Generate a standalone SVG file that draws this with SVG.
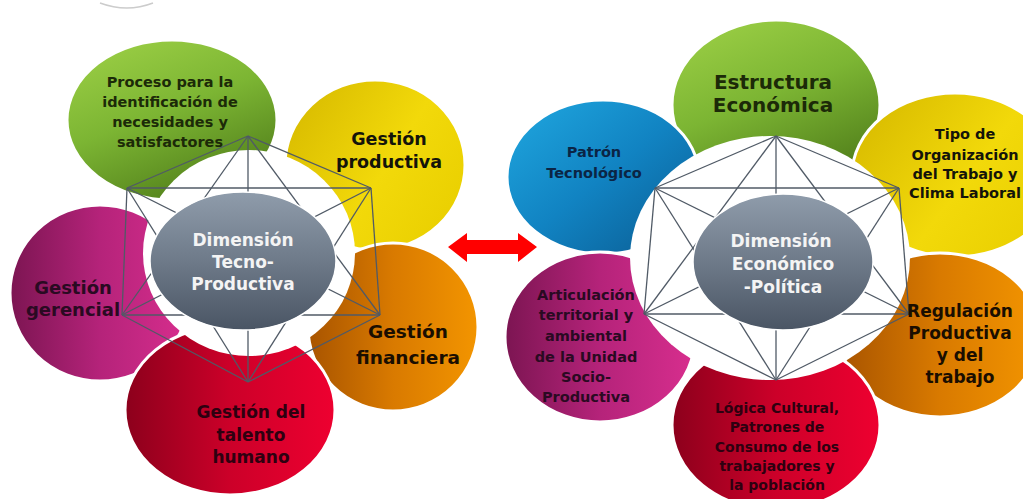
<svg xmlns="http://www.w3.org/2000/svg" width="1023" height="499" viewBox="0 0 1023 499">
<defs>
<linearGradient id="gGreen" x1="0.1" y1="0" x2="0.6" y2="1"><stop offset="0" stop-color="#9dd046"/><stop offset="0.5" stop-color="#7cb533"/><stop offset="1" stop-color="#52801b"/></linearGradient>
<linearGradient id="gYellow" x1="0" y1="0.2" x2="1" y2="0.8"><stop offset="0" stop-color="#d8bb00"/><stop offset="0.55" stop-color="#f2d90a"/><stop offset="1" stop-color="#e9cf00"/></linearGradient>
<linearGradient id="gOrange" x1="0" y1="0.5" x2="1" y2="0.5"><stop offset="0" stop-color="#a85400"/><stop offset="0.5" stop-color="#d97a00"/><stop offset="1" stop-color="#f39500"/></linearGradient>
<linearGradient id="gRed" x1="0" y1="0.5" x2="1" y2="0.5"><stop offset="0" stop-color="#8c001c"/><stop offset="0.5" stop-color="#cc0029"/><stop offset="1" stop-color="#ee0030"/></linearGradient>
<linearGradient id="gPink" x1="0" y1="0.5" x2="1" y2="0.5"><stop offset="0" stop-color="#7c1552"/><stop offset="0.5" stop-color="#b5237a"/><stop offset="1" stop-color="#d82e8e"/></linearGradient>
<linearGradient id="gBlue" x1="0" y1="0" x2="1" y2="1"><stop offset="0" stop-color="#20a8e0"/><stop offset="0.5" stop-color="#1183c2"/><stop offset="1" stop-color="#0a5a90"/></linearGradient>
<linearGradient id="gGray" x1="0" y1="0" x2="0" y2="1"><stop offset="0" stop-color="#8f9cab"/><stop offset="0.5" stop-color="#6e7a89"/><stop offset="1" stop-color="#4a5564"/></linearGradient>
</defs>
<style>
.petal{stroke:#ffffff;stroke-width:3}
.hole{fill:#ffffff;stroke:none}
.hub{fill:url(#gGray);stroke:#ffffff;stroke-width:1.5}
.edge{stroke:#505a66;stroke-width:1.3;fill:none}
text{font-family:"DejaVu Sans","Liberation Sans",sans-serif;font-weight:bold;text-anchor:middle}
.hubt{fill:#f4f4f4;font-size:17px}
.tg{fill:#1c2a08}
.ty{fill:#14140a}
.to{fill:#1a0e00}
.tr{fill:#2e0010}
.tp{fill:#2a0a22}
.tb{fill:#0b2545}
</style>
<rect width="1023" height="499" fill="#ffffff"/>
<path d="M100,3 Q127,13 153,3" fill="none" stroke="#cccccc" stroke-width="1.5"/>

<!-- Left cluster petals -->
<g id="left-petals">
<ellipse id="l-yellow-shape" class="petal" cx="375" cy="165" rx="90" ry="85" fill="url(#gYellow)"/>
<ellipse id="l-orange-shape" class="petal" cx="393" cy="327" rx="85" ry="84" fill="url(#gOrange)"/>
<ellipse id="l-pink-shape" class="petal" cx="100" cy="293" rx="90" ry="88" fill="url(#gPink)"/>
<ellipse id="l-red-shape" class="petal" cx="230" cy="410" rx="105" ry="85" fill="url(#gRed)"/>
<ellipse id="l-green-shape" class="petal" cx="172" cy="120" rx="105" ry="80" fill="url(#gGreen)"/>
</g>
<ellipse class="hole" cx="249" cy="253" rx="106" ry="103"/>

<!-- Right cluster petals -->
<g id="right-petals">
<ellipse id="r-green-shape" class="petal" cx="776" cy="105" rx="104" ry="85" fill="url(#gGreen)"/>
<ellipse id="r-blue-shape" class="petal" cx="603" cy="177" rx="96" ry="77" fill="url(#gBlue)"/>
<ellipse id="r-yellow-shape" class="petal" cx="955" cy="175" rx="103" ry="82" fill="url(#gYellow)"/>
<ellipse id="r-pink-shape" class="petal" cx="600" cy="337" rx="95" ry="85" fill="url(#gPink)"/>
<ellipse id="r-orange-shape" class="petal" cx="940" cy="335" rx="100" ry="82" fill="url(#gOrange)"/>
<ellipse id="r-red-shape" class="petal" cx="776" cy="425" rx="104" ry="85" fill="url(#gRed)"/>
</g>
<ellipse class="hole" cx="770" cy="258" rx="140" ry="122"/>

<!-- Connectors -->
<g id="connectors">
<g id="left-web">
<line class="edge" x1="248" y1="136" x2="127" y2="188"/>
<line class="edge" x1="248" y1="136" x2="371" y2="188"/>
<line class="edge" x1="248" y1="136" x2="122" y2="315"/>
<line class="edge" x1="248" y1="136" x2="380" y2="315"/>
<line class="edge" x1="248" y1="136" x2="248" y2="382"/>
<line class="edge" x1="127" y1="188" x2="371" y2="188"/>
<line class="edge" x1="127" y1="188" x2="122" y2="315"/>
<line class="edge" x1="127" y1="188" x2="380" y2="315"/>
<line class="edge" x1="127" y1="188" x2="248" y2="382"/>
<line class="edge" x1="371" y1="188" x2="122" y2="315"/>
<line class="edge" x1="371" y1="188" x2="380" y2="315"/>
<line class="edge" x1="371" y1="188" x2="248" y2="382"/>
<line class="edge" x1="122" y1="315" x2="380" y2="315"/>
<line class="edge" x1="122" y1="315" x2="248" y2="382"/>
<line class="edge" x1="380" y1="315" x2="248" y2="382"/>
</g>
<g id="right-web">
<line class="edge" x1="776" y1="136" x2="655" y2="188"/>
<line class="edge" x1="776" y1="136" x2="899" y2="188"/>
<line class="edge" x1="776" y1="136" x2="644" y2="314"/>
<line class="edge" x1="776" y1="136" x2="909" y2="314"/>
<line class="edge" x1="776" y1="136" x2="776" y2="380"/>
<line class="edge" x1="655" y1="188" x2="899" y2="188"/>
<line class="edge" x1="655" y1="188" x2="644" y2="314"/>
<line class="edge" x1="655" y1="188" x2="909" y2="314"/>
<line class="edge" x1="655" y1="188" x2="776" y2="380"/>
<line class="edge" x1="899" y1="188" x2="644" y2="314"/>
<line class="edge" x1="899" y1="188" x2="909" y2="314"/>
<line class="edge" x1="899" y1="188" x2="776" y2="380"/>
<line class="edge" x1="644" y1="314" x2="909" y2="314"/>
<line class="edge" x1="644" y1="314" x2="776" y2="380"/>
<line class="edge" x1="909" y1="314" x2="776" y2="380"/>
</g>
<polygon id="double-arrow" points="448,247 467,233 467,240 518,240 518,233 537,247 518,262 518,254 467,254 467,262" fill="#ff0000"/>
</g>

<!-- Left hub -->
<g id="hub-tecno-productiva">
<ellipse class="hub" cx="243" cy="261" rx="93" ry="69"/>
<text class="hubt" x="243" y="246">Dimensión</text>
<text class="hubt" x="243" y="268">Tecno-</text>
<text class="hubt" x="243" y="290">Productiva</text>
</g>
<g id="node-proceso" font-size="14.5">
<text class="tg" x="170" y="87">Proceso para la</text>
<text class="tg" x="170" y="107">identificación de</text>
<text class="tg" x="170" y="127">necesidades y</text>
<text class="tg" x="170" y="147">satisfactores</text>
</g>
<g id="node-gestion-productiva" font-size="17.5">
<text class="ty" x="389" y="145">Gestión</text>
<text class="ty" x="389" y="168">productiva</text>
</g>
<g id="node-gestion-gerencial" font-size="18">
<text class="tp" x="73" y="294">Gestión</text>
<text class="tp" x="73" y="316">gerencial</text>
</g>
<g id="node-gestion-financiera" font-size="18.5">
<text class="to" x="408" y="338">Gestión</text>
<text class="to" x="408" y="364">financiera</text>
</g>
<g id="node-talento-humano" font-size="17">
<text class="tr" x="251" y="418">Gestión del</text>
<text class="tr" x="251" y="441">talento</text>
<text class="tr" x="251" y="463">humano</text>
</g>

<!-- Right hub -->
<g id="hub-economico-politica">
<ellipse class="hub" cx="783" cy="262" rx="90" ry="68"/>
<text class="hubt" x="781" y="247">Dimensión</text>
<text class="hubt" x="783" y="270">Económico</text>
<text class="hubt" x="783" y="293">-Política</text>
</g>
<g id="node-estructura" font-size="20">
<text class="tg" x="773" y="89">Estructura</text>
<text class="tg" x="773" y="112">Económica</text>
</g>
<g id="node-patron" font-size="14.5">
<text class="tb" x="594" y="157">Patrón</text>
<text class="tb" x="594" y="178">Tecnológico</text>
</g>
<g id="node-tipo-organizacion" font-size="14.5">
<text class="ty" x="965" y="139">Tipo de</text>
<text class="ty" x="965" y="160">Organización</text>
<text class="ty" x="965" y="179">del Trabajo y</text>
<text class="ty" x="965" y="198">Clima Laboral</text>
</g>
<g id="node-articulacion" font-size="14.5">
<text class="tp" x="586" y="300">Articulación</text>
<text class="tp" x="586" y="320">territorial y</text>
<text class="tp" x="586" y="341">ambiental</text>
<text class="tp" x="586" y="362">de la Unidad</text>
<text class="tp" x="586" y="382">Socio-</text>
<text class="tp" x="586" y="402">Productiva</text>
</g>
<g id="node-regulacion" font-size="17">
<text class="to" x="960" y="317">Regulación</text>
<text class="to" x="960" y="339">Productiva</text>
<text class="to" x="960" y="361">y del</text>
<text class="to" x="960" y="383">trabajo</text>
</g>
<g id="node-logica-cultural" font-size="14">
<text class="tr" x="777" y="413">Lógica Cultural,</text>
<text class="tr" x="777" y="432">Patrones de</text>
<text class="tr" x="777" y="452">Consumo de los</text>
<text class="tr" x="777" y="471">trabajadores y</text>
<text class="tr" x="777" y="490">la población</text>
</g>
</svg>
